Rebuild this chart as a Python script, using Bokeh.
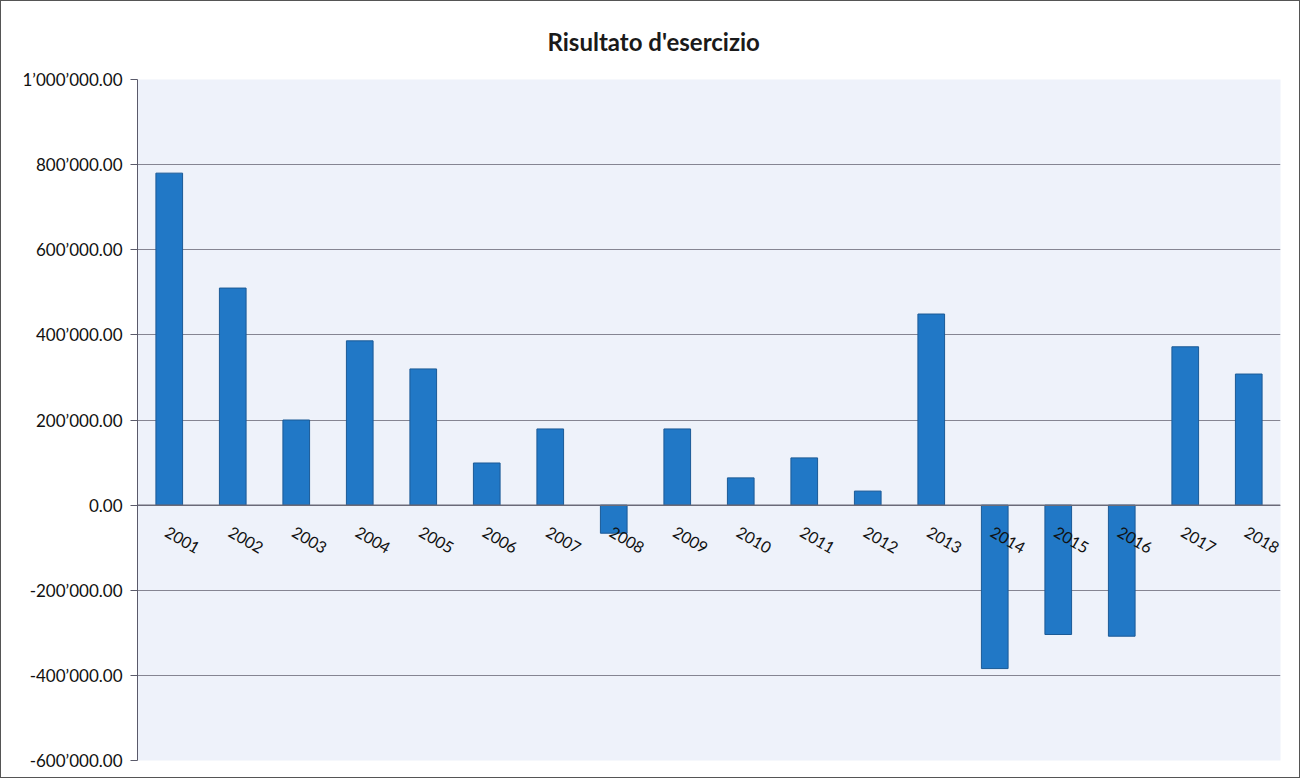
from bokeh.plotting import figure
from bokeh.models import Range1d, FixedTicker, Span
from bokeh.core.properties import value
from bokeh.embed import file_html
from bokeh.resources import INLINE

years = ["2001", "2002", "2003", "2004", "2005", "2006", "2007", "2008", "2009",
         "2010", "2011", "2012", "2013", "2014", "2015", "2016", "2017", "2018"]
results = [780000, 510000, 200000, 386000, 320000, 99000, 179000, -66000, 179000,
           64000, 111000, 33000, 449000, -384000, -304000, -308000, 372000, 308000]
y_ticks = [-600000, -400000, -200000, 0, 200000, 400000, 600000, 800000, 1000000]
y_tick_labels = ["-600\u2019000.00", "-400\u2019000.00", "-200\u2019000.00", "0.00",
                 "200\u2019000.00", "400\u2019000.00", "600\u2019000.00",
                 "800\u2019000.00", "1\u2019000\u2019000.00"]

FONT = "Lato"

p = figure(x_range=years, y_range=Range1d(-600000, 1000000),
           width=1300, height=778, output_backend="svg", toolbar_location=None,
           min_border_left=136, min_border_right=21, min_border_top=77,
           min_border_bottom=19)
p.styles = {"border": "1px solid #555"}

p.title.text = "Risultato d'esercizio"
p.title.text_font = FONT
p.title.text_font_size = "24px"
p.title.text_font_style = "bold"
p.title.text_color = "#1a1a1a"
p.title.align = "left"
p.title.offset = 410
p.title.standoff = 47

p.background_fill_color = "#eef2fa"
p.border_fill_color = "white"
p.outline_line_color = None

p.vbar(x=years, top=results, bottom=0, width=0.42,
       fill_color="#2178c6", line_color="#1b5a96", line_width=1)

p.add_layout(Span(location=0, dimension="width", line_color="#6a6a78", line_width=1.5))

p.text(x=years, y=[0] * len(years), text=years, angle=-0.52,
       text_align="center", text_baseline="middle", x_offset=13, y_offset=35,
       text_font=value(FONT), text_font_size="16px", text_color="#111111")

p.xaxis.visible = False
p.xgrid.grid_line_color = None

p.yaxis.ticker = FixedTicker(ticks=y_ticks)
p.yaxis.major_label_overrides = {t: l for t, l in zip(y_ticks, y_tick_labels)}
p.yaxis.major_label_text_font = FONT
p.yaxis.major_label_text_font_size = "17px"
p.yaxis.major_label_text_color = "#111111"
p.yaxis.axis_line_color = "#5a5a6a"
p.yaxis.major_tick_line_color = "#5a5a6a"
p.yaxis.major_tick_out = 7
p.yaxis.major_tick_in = 0
p.yaxis.minor_tick_line_color = None
p.yaxis.major_label_standoff = 8

p.ygrid.ticker = FixedTicker(ticks=y_ticks)
p.ygrid.grid_line_color = "#858592"
p.ygrid.grid_line_width = 1

open("out.html", "w").write(file_html(p, INLINE))
